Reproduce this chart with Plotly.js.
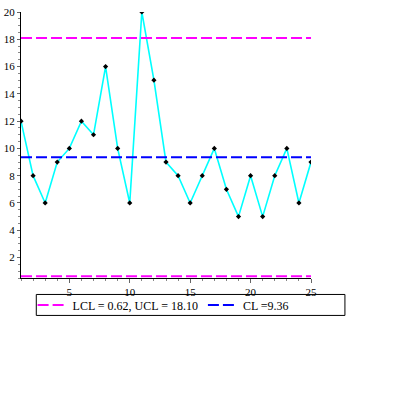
<!DOCTYPE html>
<html>
<head>
<meta charset="utf-8">
<script src="https://cdn.plot.ly/plotly-3.0.1.min.js"></script>
<style>html,body{margin:0;padding:0;background:#fff;}#chart{width:395px;height:395px;}</style>
</head>
<body>
<div id="chart"></div>
<script>
const samples = [1,2,3,4,5,6,7,8,9,10,11,12,13,14,15,16,17,18,19,20,21,22,23,24,25];
const values = [12,8,6,9,10,12,11,16,10,6,20,15,9,8,6,8,10,7,5,8,5,8,10,6,9];
const lcl = 0.62;
const ucl = 18.10;
const cl = 9.36;
const limitLabel = "LCL = 0.62, UCL = 18.10";
const clLabel = "CL =9.36";

const xFirst = samples[0], xLast = samples[samples.length-1];
const serif = "Liberation Serif";

const traces = [
  {x: samples, y: values, type: 'scatter', mode: 'lines+markers',
   line: {color: '#00ffff', width: 1.6},
   marker: {symbol: 'diamond', size: 4, color: '#000000'},
   showlegend: false, hoverinfo: 'skip'},
  {x: [xFirst, xLast, null, xFirst, xLast], y: [lcl, lcl, null, ucl, ucl],
   type: 'scatter', mode: 'lines', connectgaps: false, name: limitLabel,
   line: {color: '#ff00ff', width: 2, dash: '11px,4px'}},
  {x: [xFirst, xLast], y: [cl, cl], type: 'scatter', mode: 'lines', name: clLabel,
   line: {color: '#0000ff', width: 2, dash: '11px,4px'}}
];

const layout = {
  width: 395, height: 395,
  margin: {l: 20.7, r: 84, t: 12, b: 116.5},
  paper_bgcolor: '#ffffff', plot_bgcolor: '#ffffff',
  font: {family: serif, size: 11, color: '#000'},
  showlegend: true,
  legend: {orientation: 'h', x: 0.04, xanchor: 'left', y: -0.1016, yanchor: 'middle',
           bgcolor: 'rgba(0,0,0,0)', borderwidth: 0,
           font: {family: serif, size: 12, color: '#000'}, itemwidth: 30, tracegroupgap: 0},
  xaxis: {range: [1, 25], showgrid: false, zeroline: false, showline: true,
          linecolor: '#000', linewidth: 1, ticks: 'outside', ticklen: 4, tickwidth: 1,
          tickcolor: '#666', tickvals: [5,10,15,20,25], tickfont: {family: serif, size: 11, color: '#000'},
          minor: {dtick: 1, tick0: 0, ticks: 'outside', ticklen: 2, tickcolor: '#888', showgrid: false}},
  yaxis: {range: [0.5, 20], showgrid: false, zeroline: false, showline: true,
          linecolor: '#000', linewidth: 1, ticks: 'outside', ticklen: 3, tickwidth: 1,
          tickcolor: '#666', tickvals: [2,4,6,8,10,12,14,16,18,20], tickfont: {family: serif, size: 11, color: '#000'},
          minor: {dtick: 0.5, tick0: 0, ticks: 'outside', ticklen: 2, tickcolor: '#888', showgrid: false}},
  shapes: [{type: 'rect', xref: 'paper', yref: 'paper',
            x0: 0.0527, x1: 1.117, y0: -0.1407, y1: -0.0619,
            line: {color: '#000', width: 1}, fillcolor: 'rgba(0,0,0,0)'}]
};

Plotly.newPlot('chart', traces, layout, {displayModeBar: false, staticPlot: true});
</script>
</body>
</html>
